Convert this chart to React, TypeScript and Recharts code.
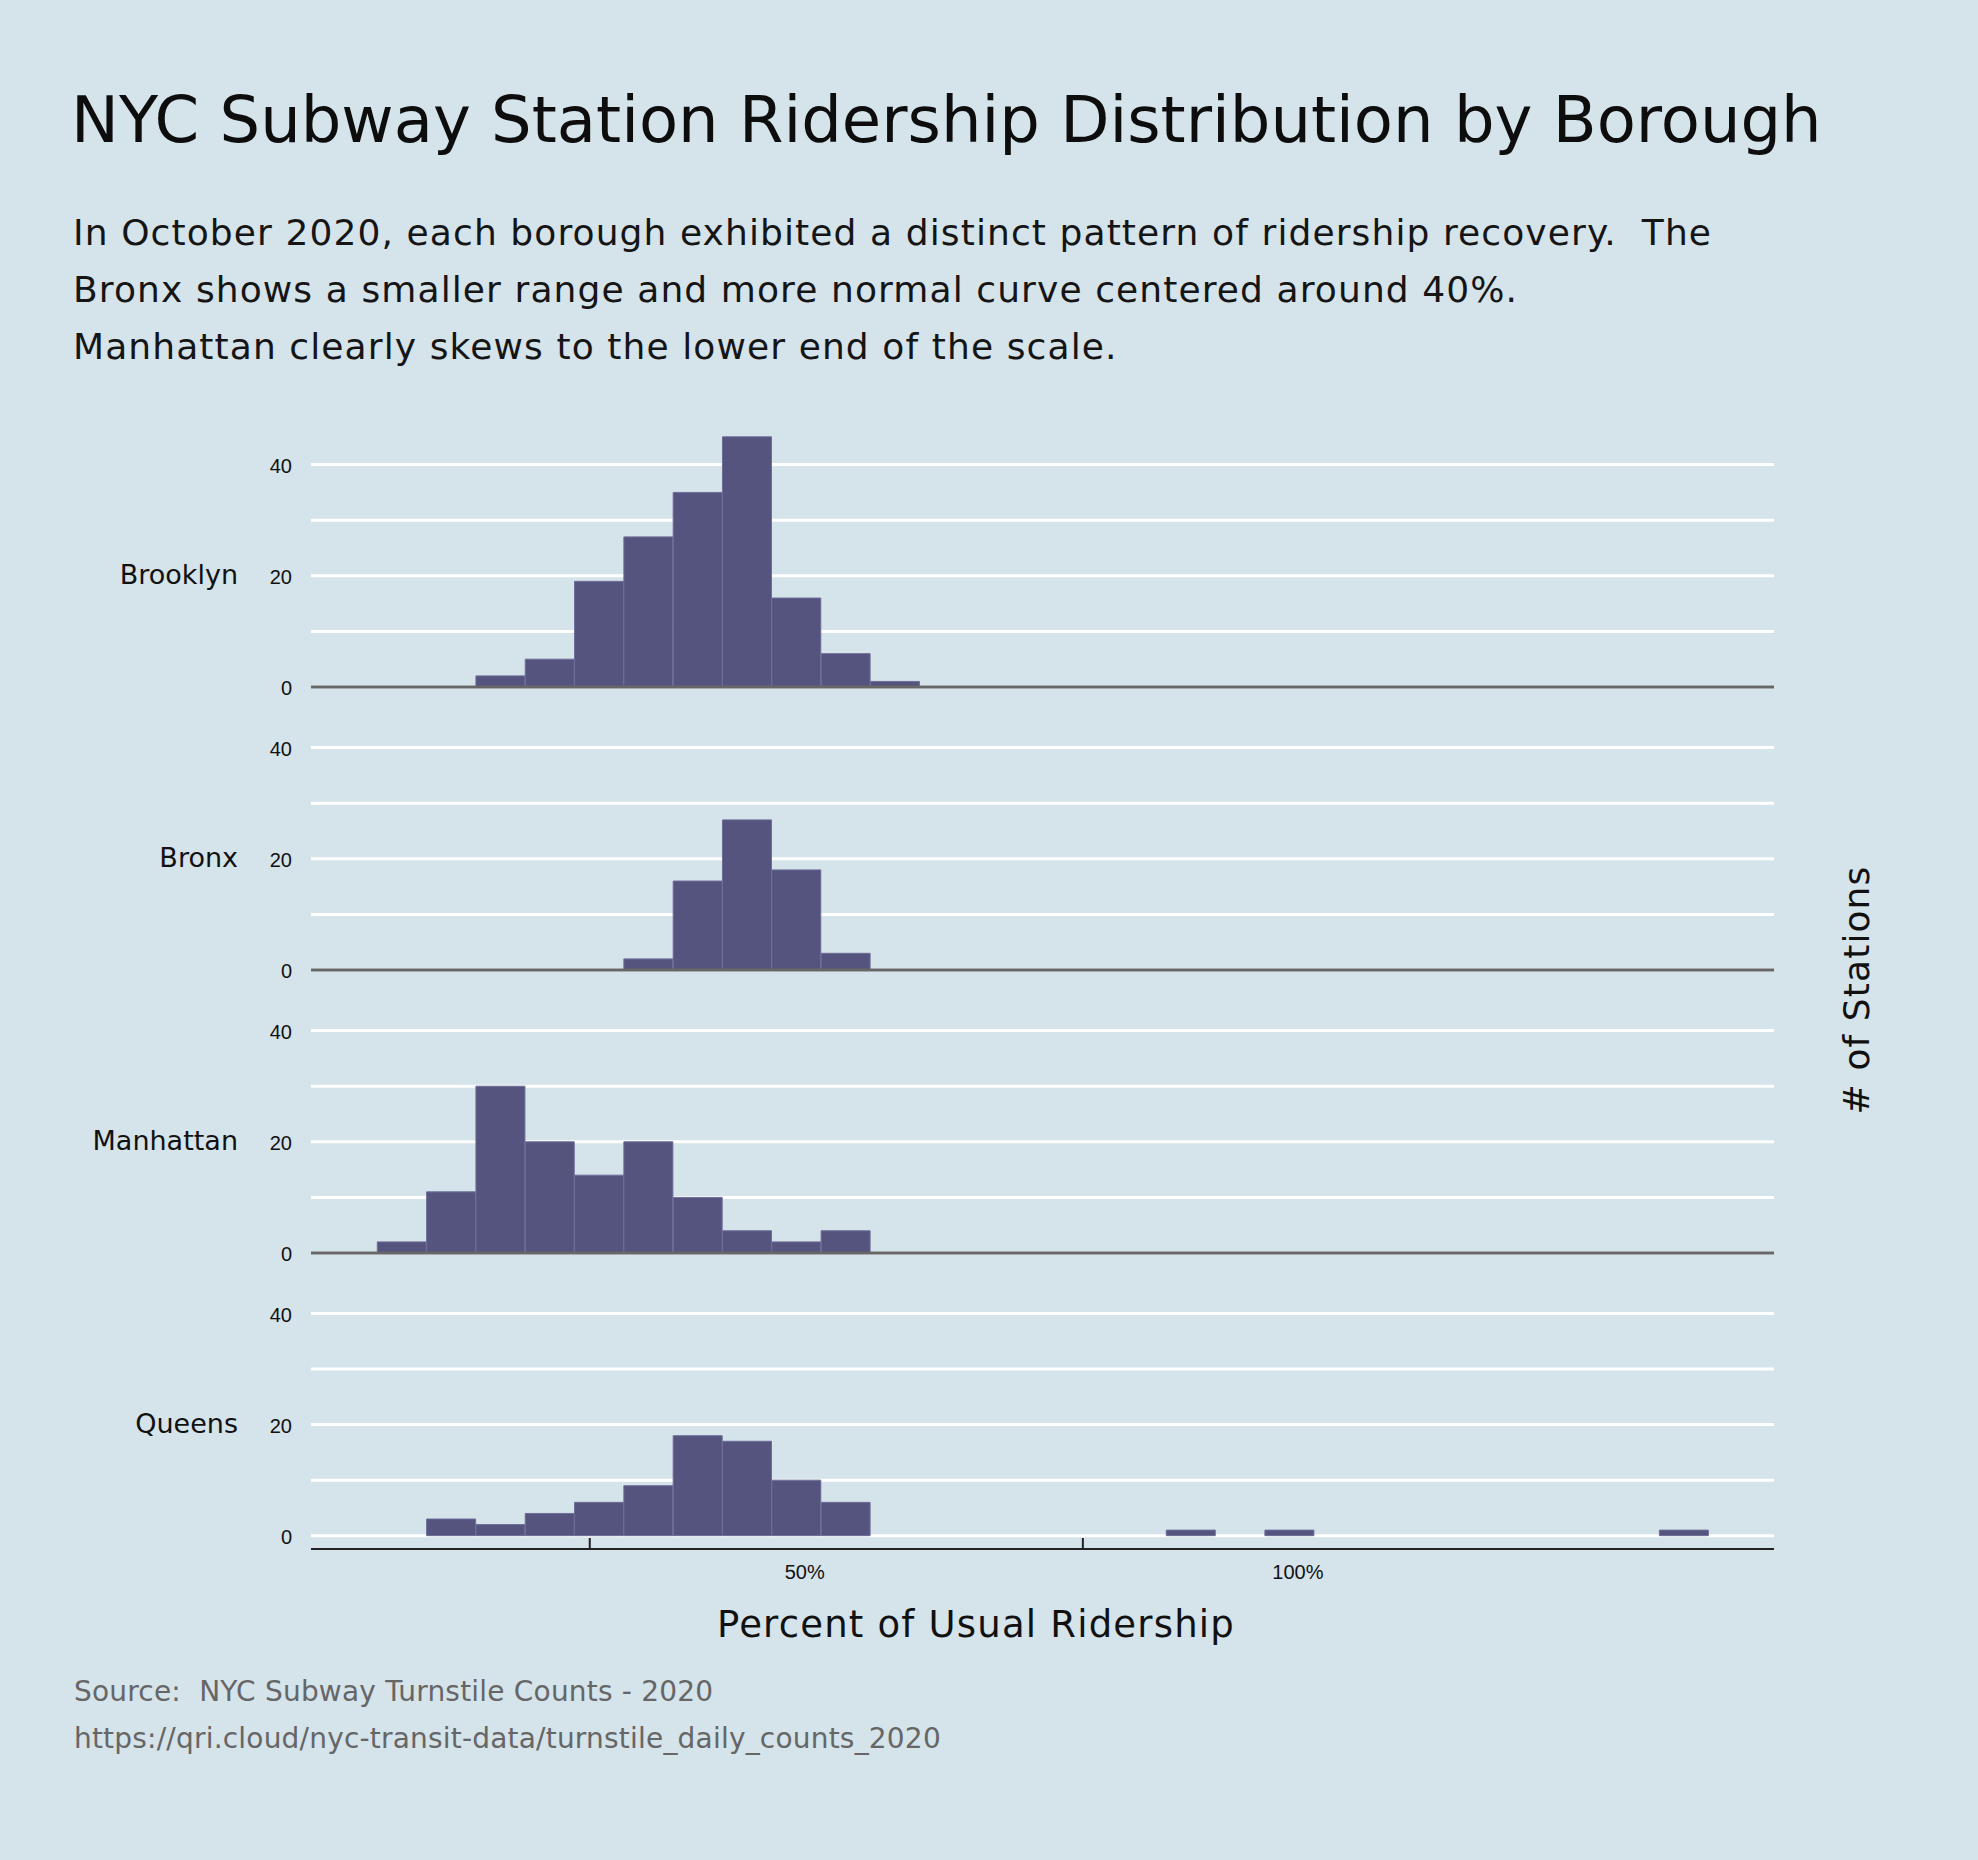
import { Bar, BarChart, CartesianGrid, ReferenceLine, XAxis, YAxis } from "recharts";

// histogram bins: lower edge of each 5-point bin (percent of usual ridership)
const binStarts = [
  0, 5, 10, 15, 20, 25, 30, 35, 40, 45, 50, 55, 60, 65, 70, 75, 80, 85, 90, 95,
  100, 105, 110, 115, 120, 125, 130, 135, 140,
];

// station counts per bin
const brooklynCounts = [
  0, 0, 0, 2, 5, 19, 27, 35, 45, 16, 6, 1, 0, 0, 0, 0, 0, 0, 0, 0, 0, 0, 0, 0, 0, 0, 0, 0, 0,
];
const bronxCounts = [
  0, 0, 0, 0, 0, 0, 2, 16, 27, 18, 3, 0, 0, 0, 0, 0, 0, 0, 0, 0, 0, 0, 0, 0, 0, 0, 0, 0, 0,
];
const manhattanCounts = [
  0, 2, 11, 30, 20, 14, 20, 10, 4, 2, 4, 0, 0, 0, 0, 0, 0, 0, 0, 0, 0, 0, 0, 0, 0, 0, 0, 0, 0,
];
const queensCounts = [
  0, 0, 3, 2, 4, 6, 9, 18, 17, 10, 6, 0, 0, 0, 0, 0, 0, 1, 0, 1, 0, 0, 0, 0, 0, 0, 0, 1, 0,
];

const boroughs = ["Brooklyn", "Bronx", "Manhattan", "Queens"];
const countsByBorough = [brooklynCounts, bronxCounts, manhattanCounts, queensCounts];

const countTicks = [0, 10, 20, 30, 40];
const percentTicks = ["50", "100"];

const BG = "#d5e3ea";
const BAR = "#55547f";
const SANS = "'DejaVu Sans', 'Noto Sans', sans-serif";
const HELV = "'Liberation Sans', Arial, sans-serif";

const PANEL_STEP = 283;
const FIRST_ZERO = 686.5;
const PLOT_H = 278;
const AXIS_PLOT_H = 291;
// in the original the labels and their tick marks are not lined up with the bins
const LABEL_SHIFT = -41;
const TICK_MARK_SHIFT = -256;

function CountTick(props: any) {
  const { x, y, payload, name } = props;
  if (payload.value % 20 !== 0) return <g />;
  return (
    <g>
      <text x={x} y={y} dy={8} textAnchor="end" fontSize={20} fontFamily={HELV} fill="#111">
        {payload.value}
      </text>
      {payload.value === 20 ? (
        <text x={x - 54} y={y} dy={8} textAnchor="end" fontSize={27} fontFamily={SANS} fill="#111">
          {name}
        </text>
      ) : null}
    </g>
  );
}

function PercentTick(props: any) {
  const { x, y, payload } = props;
  const tx = x + TICK_MARK_SHIFT;
  return (
    <g>
      <line x1={tx} x2={tx} y1={y - 11} y2={y - 1} stroke="#222" strokeWidth={2} />
      <text
        x={x + LABEL_SHIFT}
        y={y + 30}
        textAnchor="middle"
        fontSize={20}
        fontFamily={HELV}
        fill="#111"
      >
        {payload.value}%
      </text>
    </g>
  );
}

function BoroughPanel({ name, counts, index }: { name: string; counts: number[]; index: number }) {
  const data = binStarts.map((bin, i) => ({ bin: String(bin), count: counts[i] }));
  const last = index === boroughs.length - 1;
  const zero = FIRST_ZERO + PANEL_STEP * index;
  const plotH = last ? AXIS_PLOT_H : PLOT_H;
  const bottom = last ? 0 : 24;
  const top = zero - PLOT_H;

  return (
    <div style={{ position: "absolute", left: 0, top }}>
      <BarChart
        width={1800}
        height={plotH + bottom + (last ? 60 : 0)}
        data={data}
        margin={{ top: 0, right: 26, bottom, left: 251 }}
        barCategoryGap={0}
        barGap={0}
      >
        <CartesianGrid
          vertical={false}
          stroke="#ffffff"
          strokeWidth={3}
          horizontalValues={countTicks}
        />
        {last ? (
          <XAxis
            dataKey="bin"
            padding={{ left: 17, right: 16 }}
            height={60}
            ticks={percentTicks}
            interval={0}
            tickSize={0}
            tickMargin={0}
            tickLine={false}
            axisLine={{ stroke: "#222", strokeWidth: 2 }}
            tick={<PercentTick />}
          />
        ) : (
          <XAxis dataKey="bin" hide height={0} padding={{ left: 17, right: 16 }} />
        )}
        <YAxis
          domain={last ? [-2.4, 50] : [0, 50]}
          ticks={countTicks}
          interval={0}
          width={60}
          tickSize={0}
          tickMargin={19}
          axisLine={false}
          tickLine={false}
          allowDataOverflow
          tick={<CountTick name={name} />}
        />
        {!last ? <ReferenceLine y={0} stroke="#676767" strokeWidth={3} /> : null}
        <Bar
          dataKey="count"
          fill={BAR}
          stroke="#6e6d99"
          strokeWidth={1}
          isAnimationActive={false}
        />
      </BarChart>
    </div>
  );
}

export default function App() {
  return (
    <div
      style={{
        position: "absolute",
        left: 0,
        top: 0,
        width: 1978,
        height: 1860,
        background: BG,
        overflow: "hidden",
        fontFamily: SANS,
      }}
    >
      <div
        style={{
          position: "absolute",
          left: 71,
          top: 88,
          fontSize: 64,
          lineHeight: "64px",
          color: "#0d0d0d",
          whiteSpace: "pre",
        }}
      >
        NYC Subway Station Ridership Distribution by Borough
      </div>
      <div
        style={{
          position: "absolute",
          left: 73,
          top: 205,
          fontSize: 36,
          letterSpacing: 1.1,
          lineHeight: "56.8px",
          color: "#151515",
          whiteSpace: "pre",
        }}
      >
        {"In October 2020, each borough exhibited a distinct pattern of ridership recovery.  The\n"}
        {"Bronx shows a smaller range and more normal curve centered around 40%.\n"}
        {"Manhattan clearly skews to the lower end of the scale."}
      </div>

      {boroughs.map((name, i) => (
        <BoroughPanel key={name} name={name} counts={countsByBorough[i]} index={i} />
      ))}

      <div
        style={{
          position: "absolute",
          left: 626,
          top: 1606,
          width: 700,
          textAlign: "center",
          fontSize: 37,
          letterSpacing: 1.2,
          lineHeight: "37px",
          color: "#111",
        }}
      >
        Percent of Usual Ridership
      </div>
      <div
        style={{
          position: "absolute",
          left: 1657,
          top: 972,
          width: 400,
          textAlign: "center",
          fontSize: 36,
          letterSpacing: 1.1,
          lineHeight: "36px",
          color: "#111",
          transform: "rotate(-90deg)",
        }}
      >
        # of Stations
      </div>
      <div
        style={{
          position: "absolute",
          left: 74,
          top: 1669,
          fontSize: 28,
          letterSpacing: 0.2,
          lineHeight: "46.6px",
          color: "#666666",
          whiteSpace: "pre",
        }}
      >
        {"Source:  NYC Subway Turnstile Counts - 2020\n"}
        {"https://qri.cloud/nyc-transit-data/turnstile_daily_counts_2020"}
      </div>
    </div>
  );
}
